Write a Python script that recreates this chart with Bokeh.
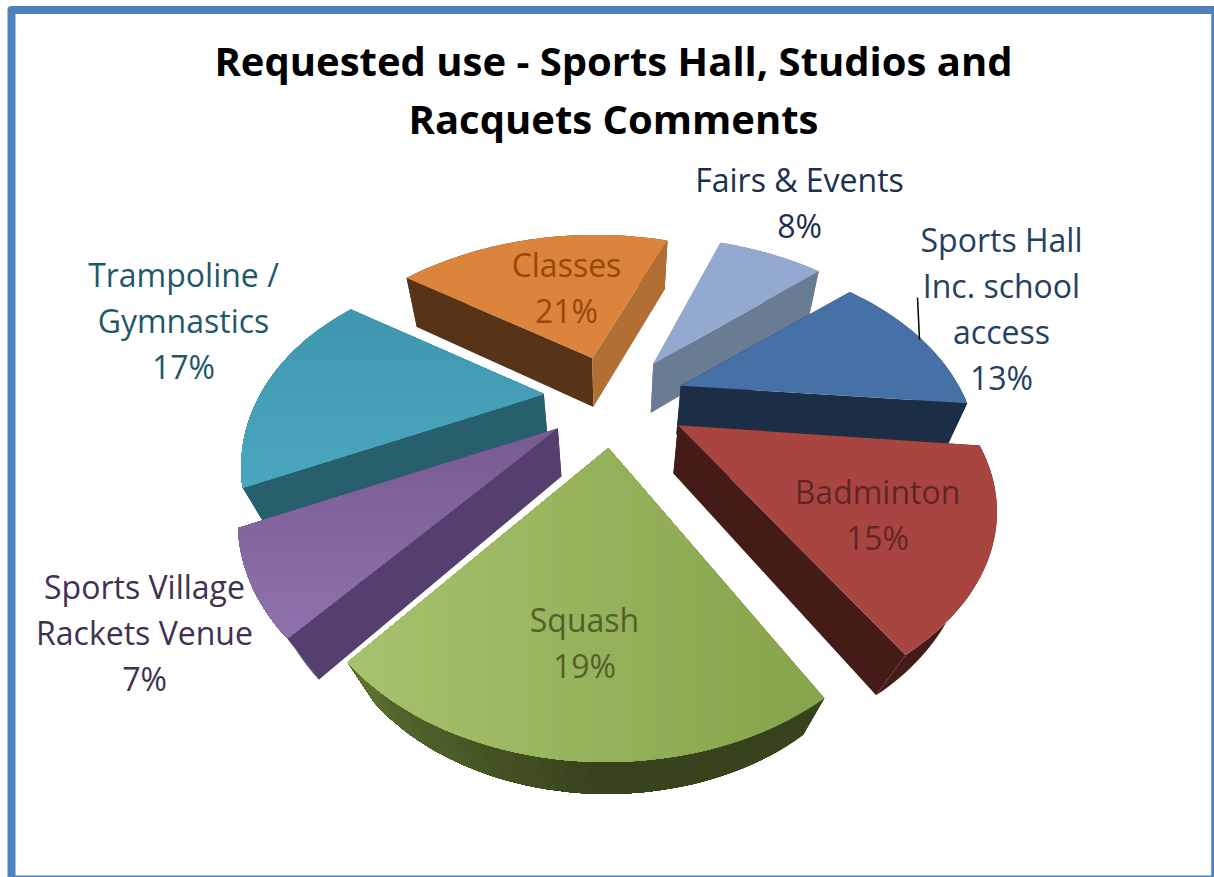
import math

from bokeh.core.properties import value
from bokeh.embed import file_html
from bokeh.models import ColumnDataSource, Range1d
from bokeh.plotting import figure
from bokeh.resources import INLINE

# Chart content, clockwise from the first slice
categories = ["Classes", "Fairs & Events", "Sports Hall Inc. school access", "Badminton",
              "Squash", "Sports Village Rackets Venue", "Trampoline / Gymnastics"]
shares = [21, 8, 13, 15, 19, 7, 17]
label_lines = [["Classes"], ["Fairs & Events"], ["Sports Hall", "Inc. school", "access"], ["Badminton"],
               ["Squash"], ["Sports Village", "Rackets Venue"], ["Trampoline /", "Gymnastics"]]
title_lines = ["Requested use - Sports Hall, Studios and", "Racquets Comments"]

# Slice styling: top face colours, wall colours, rim colours, label colour
top_flat = ["#dc833c", "#93a9cf", "#4571a6", "#a94541", None, None, None]
wall_start = ["#573317", "#6a7b94", "#1c2e45", "#451b18", "#37431c", "#553f6e", "#275f6d"]
wall_end = ["#b26f34", "#6a7b94", "#1c2e45", "#451b18", "#5a7030", "#553f6e", "#275f6d"]
rim_start = ["#573317", "#6a7b94", "#1c2e45", "#451b18", "#37431c", "#553f6e", "#275f6d"]
rim_end = ["#573317", "#6a7b94", "#1c2e45", "#451b18", "#5a7030", "#553f6e", "#275f6d"]
label_colors = ["#984807", "#1b2f4e", "#254061", "#632523", "#4f6228", "#3f3151", "#215968"]
label_centres = [(566, 264), (799, 179), (1001, 239), (877, 491), (584, 619), (144, 586), (183, 274)]
LINE_STEP = 46

# Gradient tops: slice index -> (axis, from, to, colour at from, colour at to)
top_gradient = {
    4: (0, 800.0, 350.0, "#88a44d", "#a7c36d"),
    5: (1, 440.0, 630.0, "#7a5c93", "#8e72ab"),
    6: (1, 320.0, 480.0, "#3f98b0", "#4aa6be"),
}

# Projection of the tilted pie: a perspective map of the unit disc onto an ellipse
START_ANGLE = -55.0
CENTRE = (612.0, 397.0)
EXPLODE = 0.25
TILT = -0.42
AX, AY = 315.0, 216.0
SHIFT_X, SHIFT_Y = -5.0, 91.0
VANISH_X = 610.0

# Small per-slice corrections of the exploded layout
tip_shift = [(-1, -1), (3, 0), (2, 1), (2, 2), (2, 1), (5, 1), (2, 0)]
rim_shift = [(8, 2), (0, -2), (-4.4, -3), (9, 1), (3, 7), (0, 3), (9, -3)]
rim_shear = [0, 0, -0.088, 0, 0, 0, 0.1]
rim_scale_x = [1, 1, 1, 1, 0.975, 1, 1]
rim_scale_y = [1, 1, 1, 0.94, 1, 1, 1]


def disc_to_screen(px, py):
    den = 1 + TILT * py
    ex = px * math.sqrt(1 - TILT ** 2) / den
    ey = (py + TILT) / den
    return AX * ex, AY * ey


def lerp_hex(a, b, t):
    ca = [int(a[i:i + 2], 16) for i in (1, 3, 5)]
    cb = [int(b[i:i + 2], 16) for i in (1, 3, 5)]
    return "#%02x%02x%02x" % tuple(round(u + (v - u) * t) for u, v in zip(ca, cb))


def extrude(pt):
    x, y = pt
    alpha = min(0.10, 0.05 + 0.00014 * max(0.0, y - 300))
    drop = 49 - 0.033 * max(0.0, min(y, 650) - 400) - 0.08 * max(0.0, y - 650)
    return x + (VANISH_X - x) * alpha, y + drop


def clip_half_plane(points, axis, limit, keep_above):
    """Clip a polygon to one side of an axis-aligned line."""
    out = []
    for n, cur in enumerate(points):
        nxt = points[(n + 1) % len(points)]
        cur_in = (cur[axis] >= limit) == keep_above
        nxt_in = (nxt[axis] >= limit) == keep_above
        if cur_in:
            out.append(cur)
        if cur_in != nxt_in:
            t = (limit - cur[axis]) / (nxt[axis] - cur[axis])
            out.append((cur[0] + (nxt[0] - cur[0]) * t, cur[1] + (nxt[1] - cur[1]) * t))
    return out


xs, ys, colors = [], [], []


def add_poly(points, color):
    if len(points) < 3:
        return
    xs.append([q[0] for q in points])
    ys.append([q[1] for q in points])
    colors.append(color)


# Slice angles come straight from the shares
bounds = [START_ANGLE]
for s in shares:
    bounds.append(bounds[-1] + 3.6 * s)

slices = []
for i in range(len(shares)):
    mid = math.radians((bounds[i] + bounds[i + 1]) / 2)
    slices.append((-math.cos(mid), i, mid))

# Paint back to front
for _, i, mid in sorted(slices):
    a0, a1 = bounds[i], bounds[i + 1]
    base_x, base_y = disc_to_screen(EXPLODE * math.sin(mid), -EXPLODE * math.cos(mid))
    zero_x, zero_y = disc_to_screen(0, 0)
    tip = (CENTRE[0] + base_x - zero_x + tip_shift[i][0], CENTRE[1] + base_y - zero_y + tip_shift[i][1])

    steps = max(4, int((a1 - a0) / 1.5))
    rim = []
    for k in range(steps + 1):
        ang = math.radians(a0 + (a1 - a0) * k / steps)
        sx, sy = disc_to_screen(math.sin(ang), -math.cos(ang))
        dx, dy = SHIFT_X + sx, SHIFT_Y + sy
        rim.append((tip[0] + rim_scale_x[i] * dx + rim_shift[i][0] + rim_shear[i] * dy,
                    tip[1] + rim_scale_y[i] * dy + rim_shift[i][1]))
    low = [extrude(q) for q in rim]

    # Gradient faces are painted as overlapping remainders so no seams show
    bands = 40
    if rim_start[i] == rim_end[i]:
        add_poly(rim + low[::-1], rim_start[i])
    else:
        for b in range(bands):
            k = steps * b // bands
            t = max(0.0, (b / bands - 0.45) / 0.55)
            add_poly(rim[k:] + low[k:][::-1], lerp_hex(rim_start[i], rim_end[i], t))
    add_poly([tip, rim[0], low[0], extrude(tip)], wall_start[i])
    add_poly([tip, rim[-1], low[-1], extrude(tip)], wall_end[i])

    top = [tip] + rim
    if top_flat[i]:
        add_poly(top, top_flat[i])
    else:
        axis, g0, g1, c0, c1 = top_gradient[i]
        add_poly(top, c0)
        for b in range(1, bands):
            t = b / bands
            limit = g0 + (g1 - g0) * t
            add_poly(clip_half_plane(top, axis, limit, g1 > g0), lerp_hex(c0, c1, t))

p = figure(width=1214, height=877, x_range=Range1d(0, 1214), y_range=Range1d(877, 0),
           output_backend="svg", toolbar_location=None, min_border=0,
           background_fill_color="white", border_fill_color="white", outline_line_color=None)
p.xaxis.visible = False
p.yaxis.visible = False
p.grid.visible = False

# Blue frame of the chart area
frame = "#4f81bd"
p.line([11, 11, 1214], [877, 9.5, 9.5], line_color=frame, line_width=8, line_join="round")
p.line([1212.5, 1212.5], [9, 877], line_color=frame, line_width=3.5)
p.line([11, 1214], [876, 876], line_color=frame, line_width=2)

p.patches(xs="xs", ys="ys", fill_color="colors", line_color=None,
          source=ColumnDataSource(dict(xs=xs, ys=ys, colors=colors)))

# Leader line of the Sports Hall label
p.line([917, 919], [297, 339], line_color="black", line_width=1.5)

# Labels: category lines followed by the percentage
lx, ly, lt, lc = [], [], [], []
for i, lines in enumerate(label_lines):
    cx, cy = label_centres[i]
    for n, text in enumerate(lines + [f"{shares[i]}%"]):
        lx.append(cx)
        ly.append(cy + n * LINE_STEP)
        lt.append(text)
        lc.append(label_colors[i])
p.text(x="x", y="y", text="t", text_color="c", text_font=value("Open Sans"), text_font_size="32px",
       text_align="center", text_baseline="middle",
       source=ColumnDataSource(dict(x=lx, y=ly, t=lt, c=lc)))

p.text(x=[613, 613], y=[60, 118], text=title_lines, text_color="black", text_font=value("Open Sans"),
       text_font_size="40px", text_font_style="bold", text_align="center", text_baseline="middle")

open("out.html", "w").write(file_html(p, INLINE))
